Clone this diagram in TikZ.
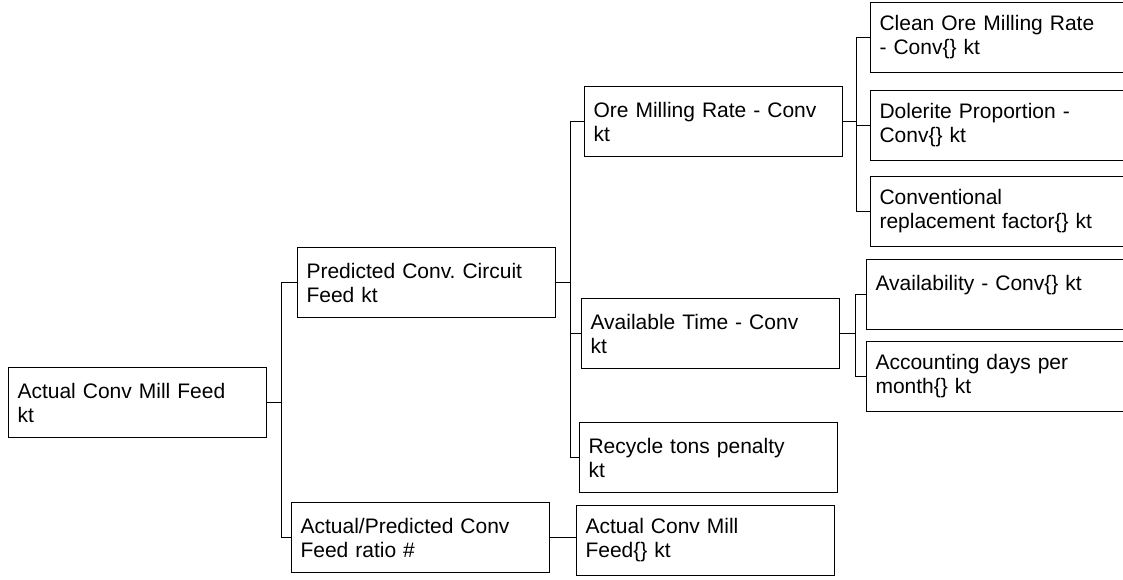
\documentclass[tikz,border=0pt]{standalone}
\usepackage{fontspec}
\setmainfont{Liberation Sans}
\begin{document}
\begin{tikzpicture}[x=1pt,y=-1pt,line width=1.1pt,
        box/.style={draw,rectangle,anchor=north west,align=left,text width=#1,inner xsep=9pt,inner ysep=0pt,minimum height=70pt,font=\fontsize{21}{24}\selectfont},
        box/.default=240pt]
        \useasboundingbox (0,0) rectangle (1123,579);
        \clip (0,0) rectangle (1123,579);
        \node[box] (root) at (8,367) {Actual Conv Mill Feed\\kt};
        \node[box] (pred) at (297,247) {Predicted Conv.\ Circuit\\Feed kt};
        \node[box] (ratio) at (291,502) {Actual/Predicted Conv\\Feed ratio \#};
        \node[box] (ore) at (584,86) {Ore Milling Rate - Conv\\kt};
        \node[box] (avail) at (581,298) {Available Time - Conv\\kt};
        \node[box] (recyc) at (579,422) {Recycle tons penalty\\kt};
        \node[box] (acfeed) at (576,505) {Actual Conv Mill\\Feed\{\} kt};
        \node[box=280pt] (clean) at (870,2) {Clean Ore Milling Rate\\- Conv\{\} kt};
        \node[box=280pt] (dol) at (870,90) {Dolerite Proportion -\\Conv\{\} kt};
        \node[box=280pt] (convrep) at (870,176) {Conventional\\replacement factor\{\} kt};
        \node[box=280pt] (availab) at (866,259) {Availability - Conv\{\} kt\\~};
        \node[box=280pt] (acdays) at (866,341) {Accounting days per\\month\{\} kt};
        \draw (root.east) -- ++(14,0) |- (pred.west);\draw (root.east) -- ++(14,0) |- (ratio.west);
        \draw (pred.east) -- ++(14,0) |- (ore.west);\draw (pred.east) -- ++(14,0) |- (avail.west);\draw (pred.east) -- ++(14,0) |- (recyc.west);
        \draw (ratio.east) -- (ratio.east -| acfeed.west);
        \draw (ore.east) -- ++(13,0) |- (clean.west);\draw (ore.east) -- ++(13,0) |- (dol.west);\draw (ore.east) -- ++(13,0) |- (convrep.west);
        \draw (avail.east) -- ++(15,0) |- (availab.west);\draw (avail.east) -- ++(15,0) |- (acdays.west);
     \end{tikzpicture}
\end{document}
